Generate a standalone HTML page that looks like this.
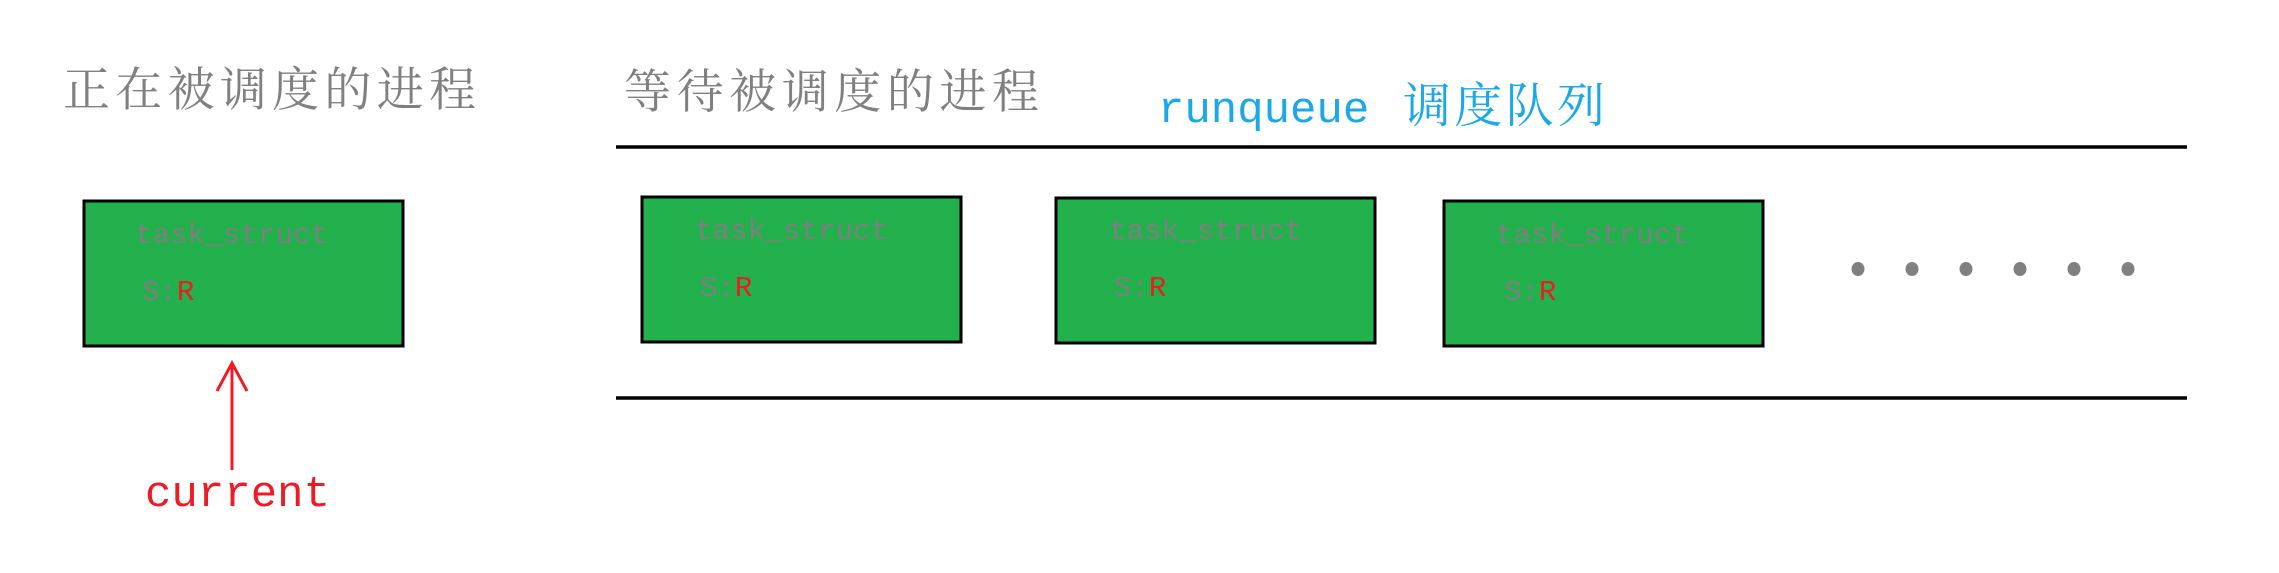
<!DOCTYPE html>
<html><head><meta charset="utf-8"><style>
html,body{margin:0;padding:0;background:#fff;width:2279px;height:573px;overflow:hidden}
svg{display:block}
</style></head><body>
<svg width="2279" height="573" viewBox="0 0 2279 573" xmlns="http://www.w3.org/2000/svg">
<g font-family="'Noto Serif CJK SC','Liberation Serif',serif" fill="#808080" font-size="47">
<text x="63" y="106" textLength="413">正在被调度的进程</text>
<text x="624" y="108" textLength="415">等待被调度的进程</text>
</g>
<text x="1158" y="122" font-family="'Liberation Mono',monospace" font-size="44" fill="#1aa8e8">runqueue</text>
<text x="1403" y="122" font-family="'Noto Serif CJK SC',serif" font-size="48" fill="#1aa8e8" textLength="202">调度队列</text>
<line x1="616" y1="147" x2="2187" y2="147" stroke="#000" stroke-width="3.5"/>
<line x1="616" y1="398" x2="2187" y2="398" stroke="#000" stroke-width="3.5"/>
<g fill="#23b14d" stroke="#000" stroke-width="3">
<rect x="84" y="201" width="319" height="145"/>
<rect x="642" y="197" width="319" height="145"/>
<rect x="1056" y="198" width="319" height="145"/>
<rect x="1444" y="201" width="319" height="145"/>
</g>
<g font-family="'Liberation Mono',monospace" font-size="29" fill="#7f7f7f">
<text x="135" y="243" textLength="193">task_struct</text>
<text x="142" y="300">S:<tspan fill="#ed1c24">R</tspan></text>
<text x="695" y="239" textLength="193">task_struct</text>
<text x="700" y="296">S:<tspan fill="#ed1c24">R</tspan></text>
<text x="1109" y="239" textLength="193">task_struct</text>
<text x="1114" y="296">S:<tspan fill="#ed1c24">R</tspan></text>
<text x="1496" y="243" textLength="193">task_struct</text>
<text x="1504" y="300">S:<tspan fill="#ed1c24">R</tspan></text>
</g>
<g fill="#808080">
<ellipse cx="1858" cy="269" rx="6.5" ry="7"/>
<ellipse cx="1912" cy="269" rx="6.5" ry="7"/>
<ellipse cx="1966" cy="269" rx="6.5" ry="7"/>
<ellipse cx="2020" cy="269" rx="6.5" ry="7"/>
<ellipse cx="2074" cy="269" rx="6.5" ry="7"/>
<ellipse cx="2128" cy="269" rx="6.5" ry="7"/>
</g>
<g stroke="#ed1c24" stroke-width="3" fill="none">
<line x1="232" y1="363" x2="232" y2="470"/>
<polyline points="217,391 232,363 247,391"/>
</g>
<text x="145" y="506" font-family="'Liberation Mono',monospace" font-size="44" fill="#ed1c24" textLength="185">current</text>
</svg>
</body></html>
